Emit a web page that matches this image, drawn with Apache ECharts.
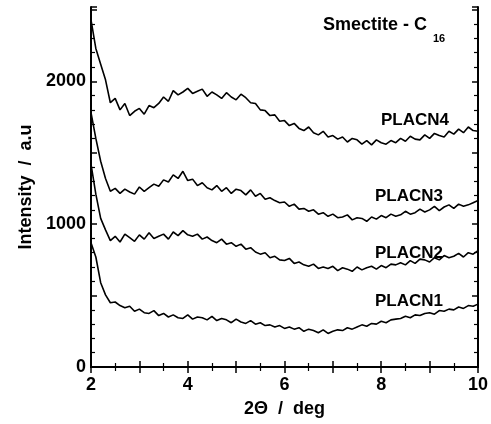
<!DOCTYPE html>
<html>
<head>
<meta charset="utf-8">
<script src="https://cdn.jsdelivr.net/npm/echarts@6/dist/echarts.min.js"></script>
<style>
  html, body { margin: 0; padding: 0; background: #fff; }
  #chart { width: 491px; height: 424px; }
</style>
</head>
<body>
<div id="chart"></div>
<script>
// 2 theta (deg)
var twoTheta = [
  2.0, 2.1, 2.2, 2.3, 2.4, 2.5, 2.6, 2.7, 2.8, 2.9,
  3.0, 3.1, 3.2, 3.3, 3.4, 3.5, 3.6, 3.7, 3.8, 3.9,
  4.0, 4.1, 4.2, 4.3, 4.4, 4.5, 4.6, 4.7, 4.8, 4.9,
  5.0, 5.1, 5.2, 5.3, 5.4, 5.5, 5.6, 5.7, 5.8, 5.9,
  6.0, 6.1, 6.2, 6.3, 6.4, 6.5, 6.6, 6.7, 6.8, 6.9,
  7.0, 7.1, 7.2, 7.3, 7.4, 7.5, 7.6, 7.7, 7.8, 7.9,
  8.0, 8.1, 8.2, 8.3, 8.4, 8.5, 8.6, 8.7, 8.8, 8.9,
  9.0, 9.1, 9.2, 9.3, 9.4, 9.5, 9.6, 9.7, 9.8, 9.9,
  10.0
];

var placn4 = [
  2430, 2230, 2120, 2010, 1850, 1880, 1800, 1845, 1760, 1790,
  1810, 1770, 1830, 1815, 1845, 1890, 1860, 1935, 1905, 1925,
  1950, 1915, 1930, 1945, 1895, 1925, 1905, 1880, 1920, 1890,
  1870, 1910, 1885, 1850, 1845, 1800, 1795, 1760, 1765, 1720,
  1725, 1690, 1705, 1670, 1655, 1680, 1640, 1625, 1650, 1610,
  1620, 1595, 1610, 1575, 1600, 1590, 1560, 1585, 1555, 1590,
  1570, 1560, 1585, 1570, 1600, 1580, 1615, 1595, 1590, 1625,
  1600, 1635, 1620, 1610, 1650, 1630, 1665, 1640, 1680, 1655,
  1650
];

var placn3 = [
  1780, 1600, 1440, 1320, 1230, 1250, 1215, 1245, 1225, 1210,
  1260, 1230, 1255, 1280, 1265, 1310, 1295, 1345, 1320, 1370,
  1305, 1315, 1270, 1290, 1255, 1240, 1270, 1230, 1255, 1215,
  1245, 1235, 1205, 1240, 1195, 1215, 1175, 1185, 1165, 1150,
  1155, 1125, 1140, 1105, 1110, 1090, 1100, 1070, 1080, 1055,
  1070, 1045, 1050, 1065, 1030, 1045, 1040, 1020, 1050, 1035,
  1060, 1045, 1070, 1055, 1065, 1090, 1070, 1080, 1105, 1085,
  1100, 1125, 1095, 1120, 1135, 1110, 1140, 1125, 1135, 1150,
  1165
];

var placn2 = [
  1420, 1210, 1040, 960, 885, 915, 875, 930, 905, 880,
  925, 895, 940, 900, 915, 930, 895, 945, 920, 955,
  925, 915, 930, 895, 910, 885, 870, 895, 860, 870,
  845, 860, 825, 835, 805, 790, 800, 765, 775, 750,
  745, 760, 725, 735, 715, 705, 720, 690, 700, 690,
  705, 675, 695, 685, 670, 700, 680, 695, 705, 685,
  710, 695, 720, 715, 730, 715, 745, 725, 755, 750,
  735, 765, 750, 780, 765, 775, 795, 770, 800, 790,
  815
];

var placn1 = [
  870, 770, 590, 505, 450, 455, 430, 415, 425, 390,
  405, 380, 375, 395, 360, 375, 350, 365, 345, 340,
  365, 335, 350, 345, 330, 355, 325, 340, 330, 310,
  335, 315, 305, 325, 300, 310, 290, 295, 280, 290,
  270, 280, 265, 275, 250, 265, 255, 240, 260, 235,
  250, 260, 255, 275, 265, 280, 295, 285, 305, 300,
  320, 310, 330, 335, 340, 355, 345, 365, 360, 375,
  380, 370, 395, 390, 405, 400, 420, 410, 430, 425,
  440
];

var seriesNames = ['PLACN1', 'PLACN2', 'PLACN3', 'PLACN4'];
var seriesValues = [placn1, placn2, placn3, placn4];

function pairs(ys) {
  return twoTheta.map(function (x, i) { return [x, ys[i]]; });
}

var font = 'Liberation Sans, Arial, sans-serif';

var xBase = {
  type: 'value',
  min: 2,
  max: 10,
  interval: 1,
  axisLine: { show: true, lineStyle: { color: '#000', width: 2 } },
  axisTick: { show: true, inside: true, length: 6, lineStyle: { color: '#000', width: 1.5 } },
  minorTick: { show: true, splitNumber: 2, length: 4, lineStyle: { color: '#000', width: 1.2 } },
  splitLine: { show: false }
};

var yBase = {
  type: 'value',
  min: 0,
  max: 2520,
  interval: 500,
  axisLine: { show: true, lineStyle: { color: '#000', width: 2 } },
  axisTick: { show: true, inside: true, length: 6, lineStyle: { color: '#000', width: 1.5 } },
  minorTick: { show: true, splitNumber: 5, length: 4, lineStyle: { color: '#000', width: 1.2 } },
  splitLine: { show: false }
};

var labelStyle = { color: '#000', fontFamily: font, fontWeight: 'bold', fontSize: 18 };

function tag(text, left, top, size) {
  return {
    type: 'text', left: left, top: top,
    style: { text: text, fontFamily: font, fontWeight: 'bold', fontSize: size, fill: '#000' }
  };
}

var option = {
  animation: false,
  backgroundColor: '#fff',
  grid: { left: 91, right: 13, top: 7, bottom: 57 },
  xAxis: [
    Object.assign({}, xBase, {
      position: 'bottom',
      name: '2\u0398  /  deg',
      nameLocation: 'middle',
      nameGap: 33,
      nameTextStyle: labelStyle,
      axisLabel: Object.assign({}, labelStyle, {
        margin: 9,
        formatter: function (v) { return v % 2 === 0 ? String(v) : ''; }
      })
    }),
    Object.assign({}, xBase, { position: 'top', axisLabel: { show: false } })
  ],
  yAxis: [
    Object.assign({}, yBase, {
      position: 'left',
      name: 'Intensity  /  a.u',
      nameLocation: 'middle',
      nameGap: 55,
      nameTextStyle: labelStyle,
      axisLabel: Object.assign({}, labelStyle, {
        margin: 5,
        showMaxLabel: false,
        formatter: function (v) { return v % 1000 === 0 ? String(v) : ''; }
      })
    }),
    Object.assign({}, yBase, { position: 'right', axisLabel: { show: false } })
  ],
  series: seriesValues.map(function (vals, i) {
    return {
      name: seriesNames[i],
      type: 'line',
      xAxisIndex: 0,
      yAxisIndex: 0,
      data: pairs(vals),
      showSymbol: false,
      lineStyle: { color: '#000', width: 1.6 }
    };
  }),
  graphic: [
    tag('Smectite - C', 323, 16, 18),
    tag('16', 433, 33, 11),
    tag('PLACN4', 381, 112, 17),
    tag('PLACN3', 375, 188, 17),
    tag('PLACN2', 375, 245, 17),
    tag('PLACN1', 375, 293, 17)
  ]
};

var myChart = echarts.init(document.getElementById('chart'));
myChart.setOption(option);
</script>
</body>
</html>
